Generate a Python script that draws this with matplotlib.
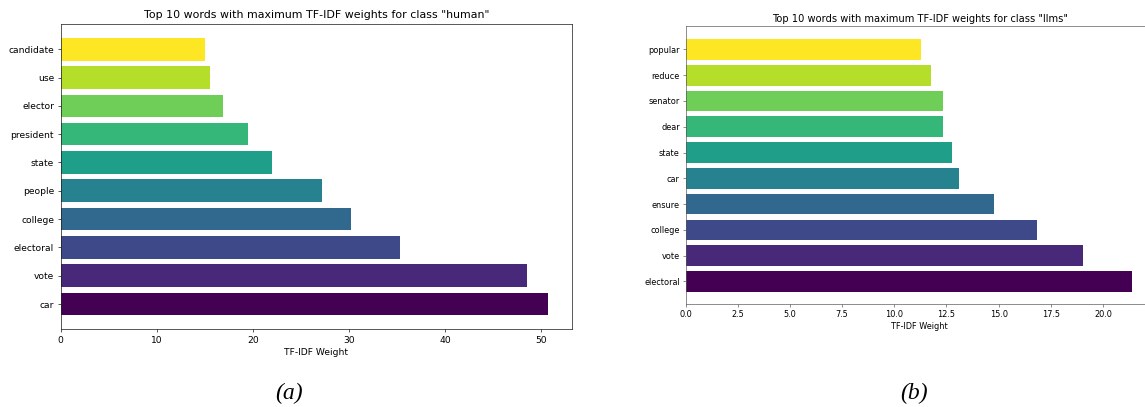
import numpy as np
import matplotlib
matplotlib.use("Agg")
import matplotlib.pyplot as plt
from matplotlib import cm

# TF-IDF top words per class (listed bottom bar first)
human_words = ["car", "vote", "electoral", "college", "people",
               "state", "president", "elector", "use", "candidate"]
human_weights = [50.7, 48.5, 35.3, 30.2, 27.2, 22.0, 19.5, 16.9, 15.5, 15.0]

llms_words = ["electoral", "vote", "college", "ensure", "car",
              "state", "dear", "senator", "reduce", "popular"]
llms_weights = [21.38, 19.05, 16.85, 14.76, 13.08, 12.78, 12.32, 12.33, 11.76, 11.30]

xlabel_text = "TF-IDF Weight"
title_human = 'Top 10 words with maximum TF-IDF weights for class "human"'
title_llms = 'Top 10 words with maximum TF-IDF weights for class "llms"'
captions = ["(a)", "(b)"]

W, H = 1145, 407
fig = plt.figure(figsize=(W / 100, H / 100), dpi=100)


def px_axes(left, top, right, bottom):
    return fig.add_axes([left / W, 1 - bottom / H, (right - left) / W, (bottom - top) / H])


def draw_panel(ax, words, weights, title, s, spine_color):
    colors = cm.viridis(np.linspace(0, 1, len(words)))
    ax.barh(words, weights, color=colors, height=0.8)
    ax.set_title(title, fontsize=12 * s, pad=6 * s)
    ax.set_xlabel(xlabel_text, fontsize=10 * s, labelpad=4 * s)
    ax.tick_params(axis="both", labelsize=10 * s, length=3.5 * s,
                   width=0.8 * s, pad=3.5 * s, color=spine_color)
    for sp in ax.spines.values():
        sp.set_linewidth(0.8 * s)
        sp.set_color(spine_color)


ax1 = px_axes(60.5, 24, 572.3, 329.3)
draw_panel(ax1, human_words, human_weights, title_human, 0.66, "#222222")

ax2 = px_axes(685.5, 26.5, 1154.2, 304.3)
draw_panel(ax2, llms_words, llms_weights, title_llms, 0.59, "#555555")

for cx, text in zip([289, 914], captions):
    fig.text(cx / W, 1 - 393 / H, text, ha="center", va="center",
             fontsize=17, style="italic", family="Liberation Serif")

fig.savefig("out.png", dpi=100)
